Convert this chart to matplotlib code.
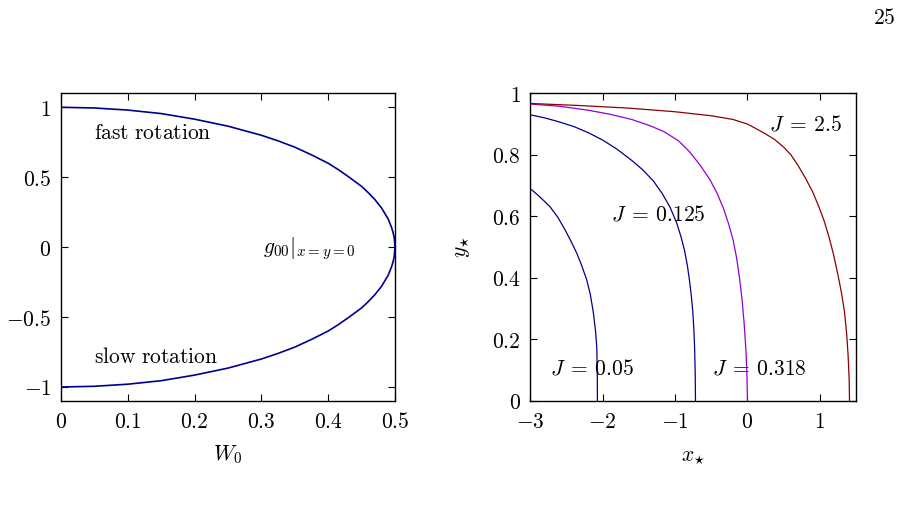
import matplotlib
matplotlib.use("Agg")
import matplotlib.pyplot as plt

plt.rcParams["mathtext.fontset"] = "cm"
plt.rcParams["font.family"] = "serif"
plt.rcParams["font.serif"] = ["DejaVu Serif"]

# left panel: g00 at origin vs W0
w0 = [0.0, 0.05, 0.1, 0.15, 0.2, 0.25, 0.3, 0.325, 0.35, 0.375, 0.4, 0.415, 0.43, 0.44, 0.45,
      0.46, 0.47, 0.475, 0.48, 0.485, 0.49, 0.4925, 0.495, 0.4975, 0.499, 0.5]
g_fast = [1.0, 0.995, 0.98, 0.955, 0.915, 0.865, 0.80, 0.76, 0.715, 0.66, 0.60, 0.555, 0.505, 0.47, 0.435,
          0.39, 0.34, 0.31, 0.28, 0.24, 0.20, 0.17, 0.14, 0.10, 0.065, 0.0]
g_slow = [-1.0, -0.995, -0.98, -0.955, -0.915, -0.865, -0.80, -0.76, -0.715, -0.66, -0.60, -0.555, -0.505, -0.47, -0.435,
          -0.39, -0.34, -0.31, -0.28, -0.24, -0.20, -0.17, -0.14, -0.10, -0.065, 0.0]

# right panel: y* vs x* for four J values
x_j005 = [-3.0, -2.9, -2.8, -2.727, -2.62, -2.52, -2.44, -2.358, -2.29, -2.22, -2.17, -2.128,
          -2.1, -2.082, -2.075, -2.073]
y_j005 = [0.69, 0.67, 0.648, 0.631, 0.597, 0.556, 0.52, 0.48, 0.44, 0.393, 0.345, 0.285,
          0.23, 0.176, 0.09, 0.0]

x_j0125 = [-3.0, -2.8, -2.6, -2.4, -2.2, -2.0, -1.8, -1.6, -1.45, -1.3, -1.18, -1.07, -0.98, -0.92,
           -0.87, -0.83, -0.8, -0.775, -0.755, -0.74, -0.73, -0.722, -0.718]
y_j0125 = [0.93, 0.92, 0.907, 0.892, 0.872, 0.848, 0.818, 0.782, 0.752, 0.715, 0.675, 0.63, 0.58, 0.535,
           0.49, 0.44, 0.39, 0.34, 0.29, 0.23, 0.17, 0.09, 0.0]

x_j0318 = [-3.0, -2.6, -2.2, -1.9, -1.6, -1.35, -1.15, -0.95, -0.8, -0.65, -0.52, -0.42, -0.33, -0.26,
           -0.2, -0.15, -0.11, -0.075, -0.045, -0.02, -0.007, 0.0]
y_j0318 = [0.965, 0.958, 0.945, 0.932, 0.915, 0.895, 0.875, 0.845, 0.81, 0.765, 0.72, 0.675, 0.625, 0.575,
           0.525, 0.465, 0.40, 0.33, 0.25, 0.16, 0.08, 0.0]

x_j25 = [-3.0, -2.3, -1.65, -1.0, -0.5, -0.2, 0.0, 0.12, 0.25, 0.38, 0.5, 0.6, 0.7, 0.8, 0.9, 0.98,
         1.06, 1.13, 1.19, 1.25, 1.3, 1.34, 1.37, 1.39, 1.405, 1.41]
y_j25 = [0.967, 0.96, 0.952, 0.94, 0.927, 0.915, 0.90, 0.885, 0.868, 0.849, 0.825, 0.80, 0.765, 0.725, 0.68, 0.635,
         0.585, 0.53, 0.475, 0.41, 0.35, 0.29, 0.22, 0.15, 0.07, 0.0]

left_xticks = [0, 0.1, 0.2, 0.3, 0.4, 0.5]
left_yticks = [-1, -0.5, 0, 0.5, 1]
right_xticks = [-3, -2, -1, 0, 1]
right_yticks = [0, 0.2, 0.4, 0.6, 0.8, 1]

FS = 15.5


def mlabel(v):
    return "$%g$" % v


def style(ax, xt, yt):
    ax.set_xticks(xt)
    ax.set_xticklabels([mlabel(v) for v in xt])
    ax.set_yticks(yt)
    ax.set_yticklabels([mlabel(v) for v in yt])
    ax.tick_params(direction="in", top=True, right=True, length=5, width=0.8,
                   labelsize=FS, pad=7)
    for s in ax.spines.values():
        s.set_linewidth(1.0)


fig = plt.figure(figsize=(9.18, 5.16), dpi=100)

ax1 = fig.add_axes([0.0664, 0.2229, 0.3638, 0.5963])
ax1.plot(w0, g_fast, color="#00008b", lw=1.2)
ax1.plot(w0, g_slow, color="#00008b", lw=1.2)
ax1.set_xlim(0, 0.5)
ax1.set_ylim(-1.1, 1.1)
style(ax1, left_xticks, left_yticks)
ax1.set_xlabel("$W_0$", fontsize=FS, labelpad=8)
ax1.text(0.05, 0.817, r"$\mathrm{fast\ rotation}$", fontsize=FS, va="center")
ax1.text(0.05, -0.785, r"$\mathrm{slow\ rotation}$", fontsize=FS, va="center")
ax1.text(0.302, -0.01, r"$g_{00}|_{x=y=0}$", fontsize=FS, va="center")

ax2 = fig.add_axes([0.5777, 0.2229, 0.3548, 0.5963])
ax2.plot(x_j005, y_j005, color="#00008b", lw=0.9)
ax2.plot(x_j0125, y_j0125, color="#00008b", lw=0.9)
ax2.plot(x_j0318, y_j0318, color="#9400d3", lw=0.9)
ax2.plot(x_j25, y_j25, color="#8b0000", lw=0.9)
ax2.set_xlim(-3, 1.5)
ax2.set_ylim(0, 1)
style(ax2, right_xticks, right_yticks)
ax2.set_xlabel(r"$x_{\star}$", fontsize=FS, labelpad=9)
ax2.set_ylabel(r"$y_{\star}$", fontsize=FS, labelpad=14)
ax2.text(0.30, 0.90, r"$J\;=\,2.5$", fontsize=FS, va="center")
ax2.text(-1.886, 0.607, r"$J\;=\,0.125$", fontsize=FS, va="center")
ax2.text(-2.73, 0.104, r"$J\;=\,0.05$", fontsize=FS, va="center")
ax2.text(-0.487, 0.104, r"$J\;=\,0.318$", fontsize=FS, va="center")

fig.text(0.976, 0.965, "$25$", fontsize=FS, ha="right", va="center")

fig.savefig("out.png", dpi=100)
